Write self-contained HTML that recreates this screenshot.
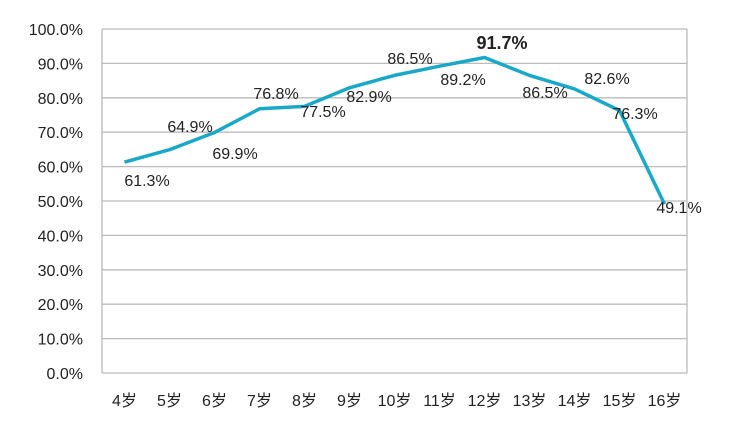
<!DOCTYPE html><html><head><meta charset="utf-8"><style>body{margin:0;background:#fff}</style></head><body>
<svg width="730" height="422" xmlns="http://www.w3.org/2000/svg" font-family="Liberation Sans, 'Noto Sans CJK SC', sans-serif" font-size="16" fill="#222">
<g stroke="#bbb" stroke-width="1.3">
<line x1="102" y1="29" x2="687" y2="29"/><line x1="102" y1="63.4" x2="687" y2="63.4"/><line x1="102" y1="97.8" x2="687" y2="97.8"/><line x1="102" y1="132.2" x2="687" y2="132.2"/><line x1="102" y1="166.6" x2="687" y2="166.6"/><line x1="102" y1="201" x2="687" y2="201"/><line x1="102" y1="235.4" x2="687" y2="235.4"/><line x1="102" y1="269.8" x2="687" y2="269.8"/><line x1="102" y1="304.2" x2="687" y2="304.2"/><line x1="102" y1="338.6" x2="687" y2="338.6"/><line x1="102" y1="373" x2="687" y2="373"/>
<line x1="102" y1="29" x2="102" y2="373"/><line x1="687" y1="29" x2="687" y2="373"/>
</g>
<g text-anchor="end">
<text x="83" y="35">100.0%</text><text x="83" y="69.4">90.0%</text><text x="83" y="103.8">80.0%</text><text x="83" y="138.2">70.0%</text><text x="83" y="172.6">60.0%</text><text x="83" y="207">50.0%</text><text x="83" y="241.4">40.0%</text><text x="83" y="275.8">30.0%</text><text x="83" y="310.2">20.0%</text><text x="83" y="344.6">10.0%</text><text x="83" y="379">0.0%</text>
</g>
<g text-anchor="middle">
<text x="124.5" y="406">4岁</text><text x="169.5" y="406">5岁</text><text x="214.5" y="406">6岁</text><text x="259.5" y="406">7岁</text><text x="304.5" y="406">8岁</text><text x="349.5" y="406">9岁</text><text x="394.5" y="406">10岁</text><text x="439.5" y="406">11岁</text><text x="484.5" y="406">12岁</text><text x="529.5" y="406">13岁</text><text x="574.5" y="406">14岁</text><text x="619.5" y="406">15岁</text><text x="664.5" y="406">16岁</text>
</g>
<polyline fill="none" stroke="#1aa8c8" stroke-width="3.5" stroke-linejoin="round" points="124.5,162.1 169.5,149.7 214.5,132.5 259.5,108.8 304.5,106.4 349.5,87.8 394.5,75.4 439.5,66.2 484.5,57.5 529.5,75.4 574.5,88.9 619.5,110.5 664.5,204.1"/>
<g text-anchor="middle">
<text x="147" y="186">61.3%</text><text x="190" y="132">64.9%</text><text x="235" y="159">69.9%</text><text x="276" y="99">76.8%</text><text x="323" y="117">77.5%</text><text x="369" y="102">82.9%</text><text x="410" y="64">86.5%</text><text x="463" y="85">89.2%</text><text x="502" y="49" font-weight="bold" font-size="18">91.7%</text><text x="545" y="98">86.5%</text><text x="607" y="84">82.6%</text><text x="635" y="119">76.3%</text><text x="679" y="213">49.1%</text>
</g>
</svg></body></html>
